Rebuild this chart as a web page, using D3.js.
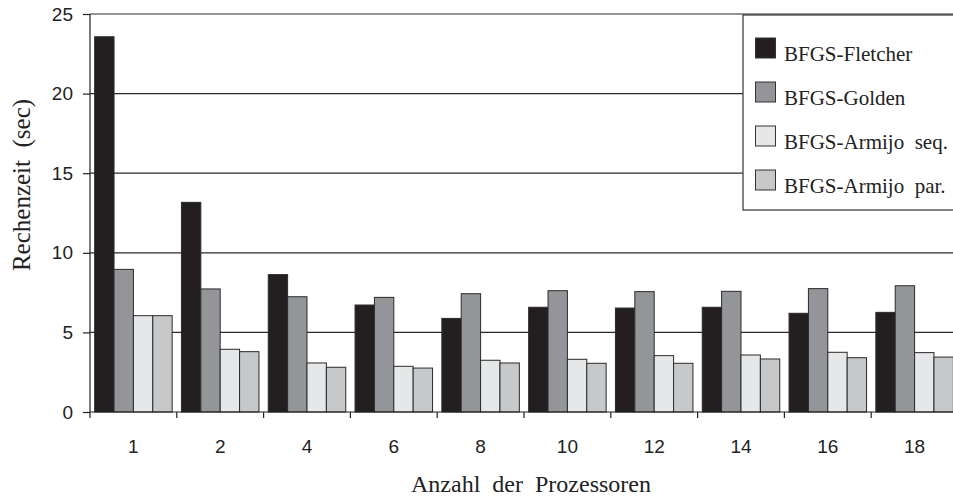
<!DOCTYPE html>
<html><head><meta charset="utf-8">
<script src="https://cdn.jsdelivr.net/npm/d3@7"></script>
<style>
html,body{margin:0;padding:0;background:#fff;overflow:hidden;}
svg{display:block;}
</style></head>
<body>
<script>
const categories = ["1","2","4","6","8","10","12","14","16","18"];
const seriesNames = ["BFGS-Fletcher","BFGS-Golden","BFGS-Armijo  seq.","BFGS-Armijo  par."];
const fletcher = [23.57,13.17,8.63,6.72,5.88,6.58,6.53,6.58,6.20,6.26];
const golden   = [8.96,7.73,7.24,7.20,7.43,7.62,7.56,7.58,7.75,7.93];
const armSeq   = [6.05,3.94,3.08,2.87,3.25,3.31,3.54,3.58,3.75,3.73];
const armPar   = [6.05,3.79,2.81,2.76,3.08,3.06,3.06,3.33,3.41,3.45];
const yTicks = [0,5,10,15,20,25];
const colors = ["#231f20","#939598","#e6e7e8","#c7c8ca"];

(function(){
const W = 953, H = 499;
const mL = 90, mR = 958, mT = 14, mB = 412;
const SANS = "'Liberation Sans', Arial, Helvetica, sans-serif";
const SERIF = "'Liberation Serif', 'Times New Roman', Times, serif";
const svg = d3.select("body").append("svg").attr("width", W).attr("height", H);

const y = d3.scaleLinear().domain([0,25]).range([mB, mT]);
const x0 = d3.scaleBand().domain(categories).range([mL, mR]).paddingInner(0).paddingOuter(0);
const x1 = d3.scaleBand().domain(d3.range(4)).range([0, x0.bandwidth()]).paddingOuter(0.24).paddingInner(0);

// gridlines
svg.append("g").selectAll("line").data(yTicks.filter(d=>d>0)).join("line")
  .attr("x1", mL).attr("x2", W).attr("y1", d=>y(d)).attr("y2", d=>y(d))
  .attr("stroke", "#2a2a2a").attr("stroke-width", 1.2);

const data = [fletcher, golden, armSeq, armPar];
const g = svg.append("g");
categories.forEach((c, i) => {
  data.forEach((s, k) => {
    g.append("rect")
      .attr("x", x0(c) + x1(k))
      .attr("y", y(s[i]))
      .attr("width", x1.bandwidth())
      .attr("height", y(0) - y(s[i]))
      .attr("fill", colors[k])
      .attr("stroke", "#2b2b2b").attr("stroke-width", 1);
  });
});

// y axis
const yAxis = d3.axisLeft(y).tickValues(yTicks).tickSize(7).tickPadding(10).tickFormat(d3.format("d"));
const ya = svg.append("g").attr("transform", `translate(${mL},0)`).call(yAxis);
ya.select(".domain").attr("stroke", "#222").attr("stroke-width", 1.2).attr("d", `M0,${mT}V${mB}`);
ya.selectAll(".tick line").attr("stroke", "#222").attr("stroke-width", 1.2);
ya.selectAll(".tick text").attr("font-family", SANS).attr("font-size", 19).attr("fill", "#222");

// x axis
const xa = svg.append("g").attr("transform", `translate(0,${mB})`);
xa.append("line").attr("x1", mL).attr("x2", W).attr("y1", 0).attr("y2", 0).attr("stroke", "#222").attr("stroke-width", 1.2);
const sepTicks = categories.map(c => x0(c));
xa.selectAll("line.sep").data(sepTicks).join("line").attr("class","sep")
  .attr("x1", d=>d).attr("x2", d=>d).attr("y1", 0).attr("y2", 6).attr("stroke", "#222").attr("stroke-width", 1.2);
xa.selectAll("text").data(categories).join("text")
  .attr("x", d => x0(d) + x0.bandwidth()/2).attr("y", 41)
  .attr("text-anchor", "middle")
  .attr("font-family", SANS).attr("font-size", 19).attr("fill", "#222")
  .text(d => d);

// axis titles
svg.append("text").attr("x", 531).attr("y", 492).attr("text-anchor", "middle")
  .attr("font-family", SERIF).attr("font-size", 24)
  .attr("word-spacing", 6).attr("fill", "#222")
  .text("Anzahl der Prozessoren");
svg.append("text").attr("transform", "translate(30,185) rotate(-90)").attr("text-anchor", "middle")
  .attr("font-family", SERIF).attr("font-size", 25)
  .attr("fill", "#222").style("white-space", "pre")
  .text("Rechenzeit  (sec)");

// legend
const lg = svg.append("g");
lg.append("rect").attr("x", 743).attr("y", 15).attr("width", 220).attr("height", 195)
  .attr("fill", "#fff").attr("stroke", "#333").attr("stroke-width", 1.2);
seriesNames.forEach((n, k) => {
  const sy = 38 + k*44;
  lg.append("rect").attr("x", 755.5).attr("y", sy).attr("width", 20).attr("height", 20)
    .attr("fill", colors[k]).attr("stroke", "#333").attr("stroke-width", 1);
  lg.append("text").attr("x", 784).attr("y", sy + 23)
    .attr("font-family", SERIF).attr("font-size", 21)
    .attr("fill", "#222").style("white-space", "pre").text(n);
});
})();
</script>
</body></html>
